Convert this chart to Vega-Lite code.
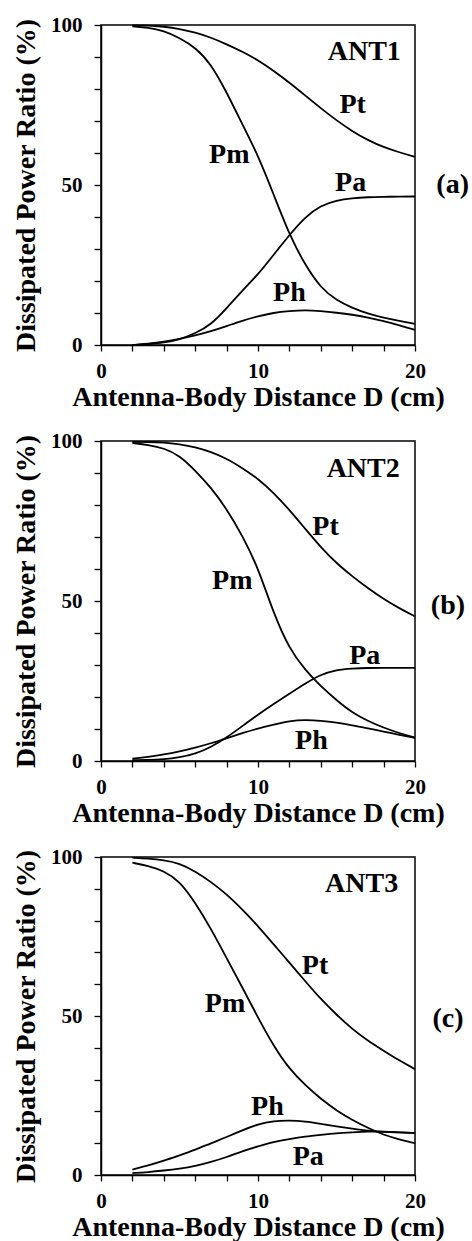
{
  "$schema": "https://vega.github.io/schema/vega-lite/v6.json",
  "padding": {"left": 11, "top": 13, "right": 0, "bottom": 0},
  "background": "white",
  "config": {
    "font": "Liberation Serif",
    "view": {"stroke": "black", "strokeWidth": 1.5},
    "axis": {
      "grid": false,
      "domain": true,
      "ticks": true,
      "domainColor": "black",
      "domainWidth": 1.5,
      "tickColor": "black",
      "tickWidth": 1.3,
      "tickOpacity": 1,
      "labelFont": "Liberation Serif",
      "labelFontSize": 21,
      "labelFontWeight": "bold",
      "labelColor": "black",
      "labelFlush": false,
      "labelOverlap": false,
      "titleFont": "Liberation Serif",
      "titleFontSize": 28,
      "titleFontWeight": "bold",
      "titleColor": "black"
    }
  },
  "datasets": {
    "curves": [
      {"p":"a","s":"Pt","D":2,"v":99.9},{"p":"a","s":"Pt","D":3,"v":99.9},{"p":"a","s":"Pt","D":4,"v":99.5},{"p":"a","s":"Pt","D":5,"v":98.8},{"p":"a","s":"Pt","D":6,"v":97.7},{"p":"a","s":"Pt","D":7,"v":96.1},{"p":"a","s":"Pt","D":8,"v":94},{"p":"a","s":"Pt","D":9,"v":91.7},{"p":"a","s":"Pt","D":10,"v":89},{"p":"a","s":"Pt","D":11,"v":85.7},{"p":"a","s":"Pt","D":12,"v":82},{"p":"a","s":"Pt","D":13,"v":78},{"p":"a","s":"Pt","D":14,"v":74},{"p":"a","s":"Pt","D":15,"v":70.2},{"p":"a","s":"Pt","D":16,"v":66.8},{"p":"a","s":"Pt","D":17,"v":64},{"p":"a","s":"Pt","D":18,"v":61.8},{"p":"a","s":"Pt","D":19,"v":60.2},{"p":"a","s":"Pt","D":20,"v":58.8},
      {"p":"a","s":"Pm","D":2,"v":99.6},{"p":"a","s":"Pm","D":3,"v":99.2},{"p":"a","s":"Pm","D":4,"v":98.2},{"p":"a","s":"Pm","D":5,"v":96},{"p":"a","s":"Pm","D":6,"v":93},{"p":"a","s":"Pm","D":7,"v":87.9},{"p":"a","s":"Pm","D":8,"v":79},{"p":"a","s":"Pm","D":9,"v":69},{"p":"a","s":"Pm","D":10,"v":59.3},{"p":"a","s":"Pm","D":11,"v":47},{"p":"a","s":"Pm","D":12,"v":34.4},{"p":"a","s":"Pm","D":13,"v":25},{"p":"a","s":"Pm","D":14,"v":17.8},{"p":"a","s":"Pm","D":15,"v":14},{"p":"a","s":"Pm","D":16,"v":11.6},{"p":"a","s":"Pm","D":17,"v":9.8},{"p":"a","s":"Pm","D":18,"v":8.5},{"p":"a","s":"Pm","D":19,"v":7.5},{"p":"a","s":"Pm","D":20,"v":6.6},
      {"p":"a","s":"Pa","D":2,"v":0},{"p":"a","s":"Pa","D":3,"v":0.3},{"p":"a","s":"Pa","D":4,"v":0.7},{"p":"a","s":"Pa","D":5,"v":1.7},{"p":"a","s":"Pa","D":6,"v":3.6},{"p":"a","s":"Pa","D":7,"v":6.3},{"p":"a","s":"Pa","D":8,"v":11.5},{"p":"a","s":"Pa","D":9,"v":17},{"p":"a","s":"Pa","D":10,"v":22},{"p":"a","s":"Pa","D":11,"v":28.2},{"p":"a","s":"Pa","D":12,"v":34.4},{"p":"a","s":"Pa","D":13,"v":40},{"p":"a","s":"Pa","D":14,"v":43.6},{"p":"a","s":"Pa","D":15,"v":45.2},{"p":"a","s":"Pa","D":16,"v":45.9},{"p":"a","s":"Pa","D":17,"v":46.2},{"p":"a","s":"Pa","D":18,"v":46.3},{"p":"a","s":"Pa","D":19,"v":46.4},{"p":"a","s":"Pa","D":20,"v":46.4},
      {"p":"a","s":"Ph","D":2,"v":0},{"p":"a","s":"Ph","D":3,"v":0.4},{"p":"a","s":"Ph","D":4,"v":1},{"p":"a","s":"Ph","D":5,"v":1.9},{"p":"a","s":"Ph","D":6,"v":3},{"p":"a","s":"Ph","D":7,"v":4.3},{"p":"a","s":"Ph","D":8,"v":5.9},{"p":"a","s":"Ph","D":9,"v":7.6},{"p":"a","s":"Ph","D":10,"v":9},{"p":"a","s":"Ph","D":11,"v":10.1},{"p":"a","s":"Ph","D":12,"v":10.6},{"p":"a","s":"Ph","D":13,"v":10.9},{"p":"a","s":"Ph","D":14,"v":10.6},{"p":"a","s":"Ph","D":15,"v":10.1},{"p":"a","s":"Ph","D":16,"v":9.5},{"p":"a","s":"Ph","D":17,"v":8.6},{"p":"a","s":"Ph","D":18,"v":7.5},{"p":"a","s":"Ph","D":19,"v":6.2},{"p":"a","s":"Ph","D":20,"v":4.7},

      {"p":"b","s":"Pt","D":2,"v":99.7},{"p":"b","s":"Pt","D":3,"v":99.7},{"p":"b","s":"Pt","D":4,"v":99.6},{"p":"b","s":"Pt","D":5,"v":99},{"p":"b","s":"Pt","D":6,"v":98.1},{"p":"b","s":"Pt","D":7,"v":96.6},{"p":"b","s":"Pt","D":8,"v":94.5},{"p":"b","s":"Pt","D":9,"v":91.6},{"p":"b","s":"Pt","D":10,"v":88.2},{"p":"b","s":"Pt","D":11,"v":83.8},{"p":"b","s":"Pt","D":12,"v":78.5},{"p":"b","s":"Pt","D":13,"v":72.6},{"p":"b","s":"Pt","D":14,"v":66.8},{"p":"b","s":"Pt","D":15,"v":61.8},{"p":"b","s":"Pt","D":16,"v":57.7},{"p":"b","s":"Pt","D":17,"v":54},{"p":"b","s":"Pt","D":18,"v":50.6},{"p":"b","s":"Pt","D":19,"v":47.7},{"p":"b","s":"Pt","D":20,"v":45.2},
      {"p":"b","s":"Pm","D":2,"v":99.4},{"p":"b","s":"Pm","D":3,"v":98.8},{"p":"b","s":"Pm","D":4,"v":97.8},{"p":"b","s":"Pm","D":5,"v":95.5},{"p":"b","s":"Pm","D":6,"v":90.8},{"p":"b","s":"Pm","D":7,"v":85.5},{"p":"b","s":"Pm","D":8,"v":78.8},{"p":"b","s":"Pm","D":9,"v":70.5},{"p":"b","s":"Pm","D":10,"v":60.5},{"p":"b","s":"Pm","D":11,"v":46},{"p":"b","s":"Pm","D":12,"v":35},{"p":"b","s":"Pm","D":13,"v":28.5},{"p":"b","s":"Pm","D":14,"v":23.3},{"p":"b","s":"Pm","D":15,"v":19},{"p":"b","s":"Pm","D":16,"v":15.1},{"p":"b","s":"Pm","D":17,"v":12.5},{"p":"b","s":"Pm","D":18,"v":10.4},{"p":"b","s":"Pm","D":19,"v":8.7},{"p":"b","s":"Pm","D":20,"v":7.3},
      {"p":"b","s":"Pa","D":2,"v":0.3},{"p":"b","s":"Pa","D":3,"v":0.3},{"p":"b","s":"Pa","D":4,"v":0.5},{"p":"b","s":"Pa","D":5,"v":1.1},{"p":"b","s":"Pa","D":6,"v":2.2},{"p":"b","s":"Pa","D":7,"v":4.3},{"p":"b","s":"Pa","D":8,"v":7.3},{"p":"b","s":"Pa","D":9,"v":10.9},{"p":"b","s":"Pa","D":10,"v":14.5},{"p":"b","s":"Pa","D":11,"v":17.8},{"p":"b","s":"Pa","D":12,"v":21},{"p":"b","s":"Pa","D":13,"v":24.2},{"p":"b","s":"Pa","D":14,"v":27},{"p":"b","s":"Pa","D":15,"v":28.5},{"p":"b","s":"Pa","D":16,"v":28.9},{"p":"b","s":"Pa","D":17,"v":29.1},{"p":"b","s":"Pa","D":18,"v":29.1},{"p":"b","s":"Pa","D":19,"v":29.1},{"p":"b","s":"Pa","D":20,"v":29.1},
      {"p":"b","s":"Ph","D":2,"v":0.7},{"p":"b","s":"Ph","D":3,"v":1.3},{"p":"b","s":"Ph","D":4,"v":2},{"p":"b","s":"Ph","D":5,"v":3},{"p":"b","s":"Ph","D":6,"v":4.2},{"p":"b","s":"Ph","D":7,"v":5.5},{"p":"b","s":"Ph","D":8,"v":7.1},{"p":"b","s":"Ph","D":9,"v":8.7},{"p":"b","s":"Ph","D":10,"v":10.2},{"p":"b","s":"Ph","D":11,"v":11.4},{"p":"b","s":"Ph","D":12,"v":12.5},{"p":"b","s":"Ph","D":13,"v":12.9},{"p":"b","s":"Ph","D":14,"v":12.6},{"p":"b","s":"Ph","D":15,"v":12},{"p":"b","s":"Ph","D":16,"v":11.2},{"p":"b","s":"Ph","D":17,"v":10.2},{"p":"b","s":"Ph","D":18,"v":9.2},{"p":"b","s":"Ph","D":19,"v":8.2},{"p":"b","s":"Ph","D":20,"v":7.2},

      {"p":"c","s":"Pt","D":2,"v":99.8},{"p":"c","s":"Pt","D":3,"v":99.5},{"p":"c","s":"Pt","D":4,"v":99},{"p":"c","s":"Pt","D":5,"v":98},{"p":"c","s":"Pt","D":6,"v":95.5},{"p":"c","s":"Pt","D":7,"v":92.2},{"p":"c","s":"Pt","D":8,"v":88.3},{"p":"c","s":"Pt","D":9,"v":83.5},{"p":"c","s":"Pt","D":10,"v":78.3},{"p":"c","s":"Pt","D":11,"v":72.5},{"p":"c","s":"Pt","D":12,"v":66.8},{"p":"c","s":"Pt","D":13,"v":61},{"p":"c","s":"Pt","D":14,"v":55.3},{"p":"c","s":"Pt","D":15,"v":50.4},{"p":"c","s":"Pt","D":16,"v":45.9},{"p":"c","s":"Pt","D":17,"v":42.2},{"p":"c","s":"Pt","D":18,"v":39.1},{"p":"c","s":"Pt","D":19,"v":36},{"p":"c","s":"Pt","D":20,"v":33.3},
      {"p":"c","s":"Pm","D":2,"v":98.2},{"p":"c","s":"Pm","D":3,"v":97.2},{"p":"c","s":"Pm","D":4,"v":95.6},{"p":"c","s":"Pm","D":5,"v":92.5},{"p":"c","s":"Pm","D":6,"v":85.7},{"p":"c","s":"Pm","D":7,"v":77.5},{"p":"c","s":"Pm","D":8,"v":68.2},{"p":"c","s":"Pm","D":9,"v":59},{"p":"c","s":"Pm","D":10,"v":49.5},{"p":"c","s":"Pm","D":11,"v":40.5},{"p":"c","s":"Pm","D":12,"v":33.3},{"p":"c","s":"Pm","D":13,"v":28.3},{"p":"c","s":"Pm","D":14,"v":23.9},{"p":"c","s":"Pm","D":15,"v":20.3},{"p":"c","s":"Pm","D":16,"v":17.3},{"p":"c","s":"Pm","D":17,"v":14.8},{"p":"c","s":"Pm","D":18,"v":12.6},{"p":"c","s":"Pm","D":19,"v":11.2},{"p":"c","s":"Pm","D":20,"v":10},
      {"p":"c","s":"Ph","D":2,"v":1.7},{"p":"c","s":"Ph","D":3,"v":3},{"p":"c","s":"Ph","D":4,"v":4.5},{"p":"c","s":"Ph","D":5,"v":6.2},{"p":"c","s":"Ph","D":6,"v":7.9},{"p":"c","s":"Ph","D":7,"v":10},{"p":"c","s":"Ph","D":8,"v":11.9},{"p":"c","s":"Ph","D":9,"v":14.1},{"p":"c","s":"Ph","D":10,"v":16},{"p":"c","s":"Ph","D":11,"v":17},{"p":"c","s":"Ph","D":12,"v":17.2},{"p":"c","s":"Ph","D":13,"v":16.9},{"p":"c","s":"Ph","D":14,"v":16.1},{"p":"c","s":"Ph","D":15,"v":15.3},{"p":"c","s":"Ph","D":16,"v":14.6},{"p":"c","s":"Ph","D":17,"v":13.9},{"p":"c","s":"Ph","D":18,"v":13.6},{"p":"c","s":"Ph","D":19,"v":13.4},{"p":"c","s":"Ph","D":20,"v":13.2},
      {"p":"c","s":"Pa","D":2,"v":0.6},{"p":"c","s":"Pa","D":3,"v":0.9},{"p":"c","s":"Pa","D":4,"v":1.4},{"p":"c","s":"Pa","D":5,"v":2},{"p":"c","s":"Pa","D":6,"v":2.8},{"p":"c","s":"Pa","D":7,"v":4.1},{"p":"c","s":"Pa","D":8,"v":5.6},{"p":"c","s":"Pa","D":9,"v":7.5},{"p":"c","s":"Pa","D":10,"v":9},{"p":"c","s":"Pa","D":11,"v":10.4},{"p":"c","s":"Pa","D":12,"v":11.3},{"p":"c","s":"Pa","D":13,"v":12.1},{"p":"c","s":"Pa","D":14,"v":12.6},{"p":"c","s":"Pa","D":15,"v":13.1},{"p":"c","s":"Pa","D":16,"v":13.4},{"p":"c","s":"Pa","D":17,"v":13.7},{"p":"c","s":"Pa","D":18,"v":13.6},{"p":"c","s":"Pa","D":19,"v":13.4},{"p":"c","s":"Pa","D":20,"v":13.2}
    ],
    "labels": [
      {"p":"a","t":"ANT1","D":16.77,"v":91.5},{"p":"a","t":"Pt","D":16.03,"v":74.9},{"p":"a","t":"Pm","D":8.17,"v":59.3},{"p":"a","t":"Pa","D":15.9,"v":50.5},{"p":"a","t":"Ph","D":12.0,"v":16.3},{"p":"a","t":"(a)","D":22.4,"v":50},
      {"p":"b","t":"ANT2","D":16.7,"v":91.3},{"p":"b","t":"Pt","D":14.3,"v":73.1},{"p":"b","t":"Pm","D":8.36,"v":56.4},{"p":"b","t":"Pa","D":16.8,"v":32.9},{"p":"b","t":"Ph","D":13.4,"v":6.3},{"p":"b","t":"(b)","D":22.1,"v":48.5},
      {"p":"c","t":"ANT3","D":16.6,"v":91.5},{"p":"c","t":"Pt","D":13.63,"v":65.8},{"p":"c","t":"Pm","D":7.9,"v":53.8},{"p":"c","t":"Ph","D":10.6,"v":21.3},{"p":"c","t":"Pa","D":13.2,"v":5.6},{"p":"c","t":"(c)","D":22.1,"v":49}
    ]
  },
  "spacing": 96,
  "bounds": "flush",
  "vconcat": [
    {
      "width": 314, "height": 320,
      "encoding": {
        "x": {"field": "D", "type": "quantitative", "scale": {"domain": [0, 20]},
              "axis": {"title": "Antenna-Body Distance D (cm)", "values": [0,2,4,6,8,10,12,14,16,18,20], "labelExpr": "datum.value % 10 === 0 ? datum.label : ''", "tickSize": 6, "labelPadding": 9, "titlePadding": 2}},
        "y": {"field": "v", "type": "quantitative", "scale": {"domain": [0, 100]},
              "axis": {"title": "Dissipated Power Ratio (%)", "values": [0,10,20,30,40,50,60,70,80,90,100], "labelExpr": "datum.value % 50 === 0 ? datum.label : ''", "tickSize": 7, "labelPadding": 12, "titlePadding": 10}}
      },
      "layer": [
        {
          "data": {"name": "curves"},
          "transform": [{"filter": "datum.p === 'a'"}],
          "mark": {"type": "line", "color": "black", "strokeWidth": 1.8, "interpolate": "basis"},
          "encoding": {"detail": {"field": "s"}}
        },
        {
          "data": {"name": "labels"},
          "transform": [{"filter": "datum.p === 'a'"}],
          "mark": {"type": "text", "font": "Liberation Serif", "fontSize": 28, "fontWeight": "bold", "color": "black", "align": "center", "baseline": "middle"},
          "encoding": {"text": {"field": "t"}}
        }
      ]
    },
    {
      "width": 314, "height": 320,
      "encoding": {
        "x": {"field": "D", "type": "quantitative", "scale": {"domain": [0, 20]},
              "axis": {"title": "Antenna-Body Distance D (cm)", "values": [0,2,4,6,8,10,12,14,16,18,20], "labelExpr": "datum.value % 10 === 0 ? datum.label : ''", "tickSize": 6, "labelPadding": 9, "titlePadding": 2}},
        "y": {"field": "v", "type": "quantitative", "scale": {"domain": [0, 100]},
              "axis": {"title": "Dissipated Power Ratio (%)", "values": [0,10,20,30,40,50,60,70,80,90,100], "labelExpr": "datum.value % 50 === 0 ? datum.label : ''", "tickSize": 7, "labelPadding": 12, "titlePadding": 10}}
      },
      "layer": [
        {
          "data": {"name": "curves"},
          "transform": [{"filter": "datum.p === 'b'"}],
          "mark": {"type": "line", "color": "black", "strokeWidth": 1.8, "interpolate": "basis"},
          "encoding": {"detail": {"field": "s"}}
        },
        {
          "data": {"name": "labels"},
          "transform": [{"filter": "datum.p === 'b'"}],
          "mark": {"type": "text", "font": "Liberation Serif", "fontSize": 28, "fontWeight": "bold", "color": "black", "align": "center", "baseline": "middle"},
          "encoding": {"text": {"field": "t"}}
        }
      ]
    },
    {
      "width": 314, "height": 318,
      "encoding": {
        "x": {"field": "D", "type": "quantitative", "scale": {"domain": [0, 20]},
              "axis": {"title": "Antenna-Body Distance D (cm)", "values": [0,2,4,6,8,10,12,14,16,18,20], "labelExpr": "datum.value % 10 === 0 ? datum.label : ''", "tickSize": 6, "labelPadding": 9, "titlePadding": 2}},
        "y": {"field": "v", "type": "quantitative", "scale": {"domain": [0, 100]},
              "axis": {"title": "Dissipated Power Ratio (%)", "values": [0,10,20,30,40,50,60,70,80,90,100], "labelExpr": "datum.value % 50 === 0 ? datum.label : ''", "tickSize": 7, "labelPadding": 12, "titlePadding": 10}}
      },
      "layer": [
        {
          "data": {"name": "curves"},
          "transform": [{"filter": "datum.p === 'c'"}],
          "mark": {"type": "line", "color": "black", "strokeWidth": 1.8, "interpolate": "basis"},
          "encoding": {"detail": {"field": "s"}}
        },
        {
          "data": {"name": "labels"},
          "transform": [{"filter": "datum.p === 'c'"}],
          "mark": {"type": "text", "font": "Liberation Serif", "fontSize": 28, "fontWeight": "bold", "color": "black", "align": "center", "baseline": "middle"},
          "encoding": {"text": {"field": "t"}}
        }
      ]
    }
  ]
}
